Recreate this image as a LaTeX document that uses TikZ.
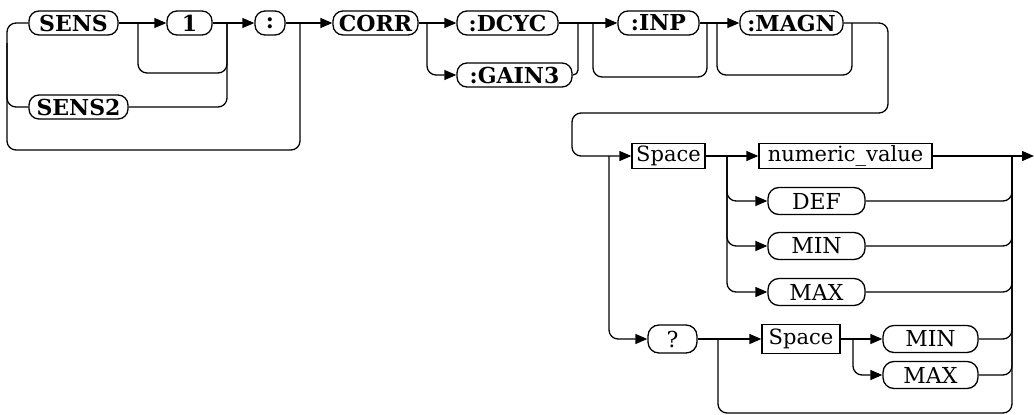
\documentclass[tikz,border=0pt]{standalone}
\usepackage{fontspec}
\setmainfont{DejaVu Serif}
\usetikzlibrary{arrows.meta,calc}
\tikzset{
    kw/.style={draw, rounded corners=10pt, line width=1.3pt, inner sep=0pt,
        minimum height=24pt, font=\fontsize{22}{24}\selectfont\bfseries},
    kwlow/.style={kw, minimum height=27pt, rounded corners=11pt,
        font=\fontsize{22}{24}\selectfont},
    param/.style={draw, rectangle, line width=1.3pt, inner sep=0pt,
        minimum height=25pt, font=\fontsize{21}{24}\selectfont},
    conn/.style={line width=1.3pt, rounded corners=9pt},
    feed/.style={conn, -{Triangle[length=12pt,width=10pt]}}
}
\begin{document}
\begin{tikzpicture}[x=1pt,y=-1pt]
\useasboundingbox (0,0) rectangle (1034,415);
% keywords of the first row
\node[kw, minimum width=89pt] (sens) at (73.5,23) {SENS};
\node[kw, minimum width=45pt] (one) at (189.5,23) {1};
\node[kw, minimum width=30pt] (colon) at (270,23) {:};
\node[kw, minimum width=99pt] (senstwo) at (78.5,107) {SENS2};
\node[kw, minimum width=85pt] (corr) at (375.5,23) {CORR};
\node[kw, minimum width=101pt] (dcyc) at (507.5,23) {:DCYC};
\node[kw, minimum width=115pt] (gain) at (514.5,75) {:GAIN3};
\node[kw, minimum width=81pt] (inp) at (658.5,23) {:INP};
\node[kw, minimum width=103pt] (magn) at (791.5,23) {:MAGN};
% parameters
\node[param, minimum width=73pt] (space) at (668.5,156) {Space};
\node[param, minimum width=173pt] (numval) at (845.5,156) {numeric\_value};
\node[kwlow, minimum width=97pt] (def) at (816.5,201) {DEF};
\node[kwlow, minimum width=97pt] (min) at (816.5,246) {MIN};
\node[kwlow, minimum width=97pt] (max) at (816.5,292) {MAX};
\node[kwlow, minimum width=49pt, minimum height=28pt] (query) at (672.5,339) {?};
\node[param, minimum width=78pt, minimum height=29pt] (spacetwo) at (801,339) {Space};
\node[kwlow, minimum width=95pt] (mintwo) at (930.5,339) {MIN};
\node[kwlow, minimum width=95pt] (maxtwo) at (930.5,375) {MAX};
% branch and merge points
\coordinate (jl) at (7,23);
\coordinate (jc) at (300,23);
\coordinate (bone) at (138,23);
\coordinate (mone) at (227,23);
\coordinate (bcorr) at (427,23);
\coordinate (mcorr) at (578,23);
\coordinate (binp) at (593,23);
\coordinate (minp) at (707,23);
\coordinate (bmagn) at (717,23);
\coordinate (mmagn) at (852,23);
\coordinate (turn) at (888,23);
\coordinate (back) at (572,113);
\coordinate (bspace) at (609,156);
\coordinate (bval) at (727,156);
\coordinate (mval) at (1012,156);
\coordinate (fin) at (1034,156);
\coordinate (bquery) at (718,339);
\coordinate (bmin) at (853,339);
% SENS part
\draw[conn] (sens.west) -- (jl) -- ++(0,127) -| (jc);
\draw[conn] ($(jl)+(0,20)$) |- (senstwo.west);
\draw[feed] (sens.east) -- (one.west);
\draw[conn] (bone) -- ++(0,50) -| (mone);
\draw[conn] (senstwo.east) -| (mone);
\draw[feed] (one.east) -- (colon.west);
\draw[feed] (colon.east) -- (corr.west);
% CORR part
\draw[feed] (corr.east) -- (dcyc.west);
\draw[feed] (bcorr) |- (gain.west);
\draw[conn, rounded corners=5pt] (gain.east) -| (mcorr);
\draw[feed] (dcyc.east) -- (inp.west);
\draw[conn] (binp) -- ++(0,54) -| (minp);
\draw[feed] (inp.east) -- (magn.west);
\draw[conn] (bmagn) -- ++(0,52) -| (mmagn);
\draw[feed] (magn.east) -- (turn) |- (back) |- (space.west);
% values
\draw[feed] (bspace) |- (query.west);
\draw[feed] (space.east) -- (numval.west);
\foreach \n in {def,min,max} {
    \draw[feed] (bval) |- (\n.west);
    \draw[conn] (\n.east) -| (mval);
}
\draw[feed] (numval.east) -- (fin);
\draw[feed] (query.east) -- (spacetwo.west);
\draw[conn] (bquery) -- ++(0,74) -| (mval);
\draw[feed] (spacetwo.east) -- (mintwo.west);
\draw[feed] (bmin) |- (maxtwo.west);
\foreach \n in {mintwo,maxtwo}
    \draw[conn] (\n.east) -| (mval);
\end{tikzpicture}
\end{document}
